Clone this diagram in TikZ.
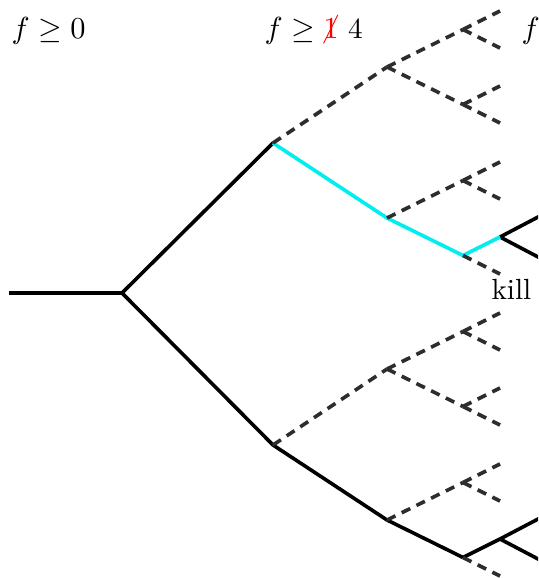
\documentclass[tikz,border=0pt]{standalone}
\usepackage{xcolor}
\usepackage{cancel}
\definecolor{pathcyan}{RGB}{0,238,238}
\definecolor{dashgray}{RGB}{45,45,45}
\renewcommand{\CancelColor}{\color{red}}
\begin{document}
\begin{tikzpicture}[x=0.36pt,y=-0.36pt,
  solidline/.style={line width=1.3pt,black},
  dashline/.style={line width=1.3pt,dashgray,dash pattern=on 3.4pt off 2.5pt},
  pathline/.style={line width=1.3pt,pathcyan},
  lbl/.style={inner sep=0pt,anchor=base west,font=\fontsize{10.5pt}{12.6pt}\selectfont}]
\useasboundingbox (0,0) rectangle (538,578);
\clip (0,0) rectangle (538,578);
% tree nodes
\coordinate (r0) at (9,293);
\coordinate (a) at (122,293);
\coordinate (u) at (273,143);
\coordinate (d) at (273,445);
\coordinate (uu) at (387,67);
\coordinate (ud) at (387,218);
\coordinate (du) at (387,369);
\coordinate (dd) at (387,520);
\coordinate (uuu) at (463,29.5);
\coordinate (uud) at (463,104.5);
\coordinate (udu) at (463,180.5);
\coordinate (udd) at (463,255.5);
\coordinate (duu) at (463,331.5);
\coordinate (dud) at (463,406.5);
\coordinate (ddu) at (463,482.5);
\coordinate (ddd) at (463,557.5);
\coordinate (a1) at (500,11);
\coordinate (a2) at (500,48);
\coordinate (a3) at (500,86);
\coordinate (a4) at (500,123);
\coordinate (a5) at (500,162);
\coordinate (a6) at (500,199);
\coordinate (a7) at (500,237);
\coordinate (a8) at (500,274);
\coordinate (a9) at (500,313);
\coordinate (a10) at (500,350);
\coordinate (a11) at (500,388);
\coordinate (a12) at (500,425);
\coordinate (a13) at (500,464);
\coordinate (a14) at (500,501);
\coordinate (a15) at (500,539);
\coordinate (a16) at (500,576);
\coordinate (b1) at (540,216);
\coordinate (b2) at (540,258);
\coordinate (b3) at (540,518);
\coordinate (b4) at (540,560);
% solid edges
\draw[solidline] (r0) -- (a);
\draw[solidline] (a) -- (u);
\draw[solidline] (a) -- (d);
\draw[solidline] (d) -- (dd);
\draw[solidline] (dd) -- (ddd);
\draw[solidline] (ddd) -- (a15);
\draw[solidline] (a7) -- (b1);
\draw[solidline] (a7) -- (b2);
\draw[solidline] (a15) -- (b3);
\draw[solidline] (a15) -- (b4);
% highlighted path
\draw[pathline] (u) -- (ud) -- (udd) -- (a7);
% dashed edges
\draw[dashline] (u) -- (uu);
\draw[dashline] (uu) -- (uuu);
\draw[dashline] (uu) -- (uud);
\draw[dashline] (uuu) -- (a1);
\draw[dashline] (uuu) -- (a2);
\draw[dashline] (uud) -- (a3);
\draw[dashline] (uud) -- (a4);
\draw[dashline] (ud) -- (udu);
\draw[dashline] (udu) -- (a5);
\draw[dashline] (udu) -- (a6);
\draw[dashline] (udd) -- (a8);
\draw[dashline] (d) -- (du);
\draw[dashline] (du) -- (duu);
\draw[dashline] (du) -- (dud);
\draw[dashline] (duu) -- (a9);
\draw[dashline] (duu) -- (a10);
\draw[dashline] (dud) -- (a11);
\draw[dashline] (dud) -- (a12);
\draw[dashline] (dd) -- (ddu);
\draw[dashline] (ddu) -- (a13);
\draw[dashline] (ddu) -- (a14);
\draw[dashline] (ddd) -- (a16);
% labels
\node[lbl] (t0) at (11,39) {$f \geq 0$};
\node[lbl] (t1) at (264,39) {$f \geq {\color{red}\cancel{1}}$ 4};
\node[lbl] (t2) at (521,39) {$f$};
\node[lbl] (kill) at (491,300) {kill};
\end{tikzpicture}
\end{document}
